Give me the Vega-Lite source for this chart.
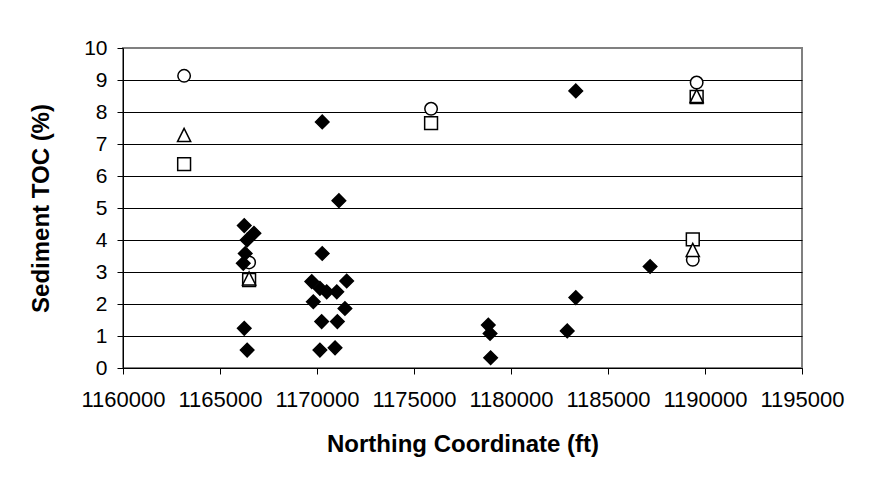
{
  "$schema": "https://vega.github.io/schema/vega-lite/v6.json",
  "width": 679,
  "height": 320,
  "autosize": {"type": "none"},
  "padding": {"left": 123, "top": 48, "right": 72, "bottom": 126},
  "background": "white",
  "config": {
    "font": "Liberation Sans",
    "view": {"stroke": "#808080", "strokeWidth": 2}
  },
  "data": {
    "values": [
      {"northing": 1163150, "toc": 9.13, "series": "Circle"},
      {"northing": 1166500, "toc": 3.3, "series": "Circle"},
      {"northing": 1175880, "toc": 8.1, "series": "Circle"},
      {"northing": 1189570, "toc": 8.92, "series": "Circle"},
      {"northing": 1189370, "toc": 3.38, "series": "Circle"},
      {"northing": 1163150, "toc": 6.37, "series": "Square"},
      {"northing": 1166500, "toc": 2.75, "series": "Square"},
      {"northing": 1175880, "toc": 7.65, "series": "Square"},
      {"northing": 1189570, "toc": 8.47, "series": "Square"},
      {"northing": 1189370, "toc": 4.02, "series": "Square"},
      {"northing": 1163150, "toc": 7.28, "series": "Triangle"},
      {"northing": 1166500, "toc": 2.8, "series": "Triangle"},
      {"northing": 1189570, "toc": 8.5, "series": "Triangle"},
      {"northing": 1189370, "toc": 3.69, "series": "Triangle"},
      {"northing": 1166250, "toc": 4.45, "series": "Diamond"},
      {"northing": 1166750, "toc": 4.21, "series": "Diamond"},
      {"northing": 1166400, "toc": 4.0, "series": "Diamond"},
      {"northing": 1166300, "toc": 3.58, "series": "Diamond"},
      {"northing": 1166200, "toc": 3.27, "series": "Diamond"},
      {"northing": 1166250, "toc": 1.24, "series": "Diamond"},
      {"northing": 1166400, "toc": 0.56, "series": "Diamond"},
      {"northing": 1170270, "toc": 7.69, "series": "Diamond"},
      {"northing": 1171130, "toc": 5.23, "series": "Diamond"},
      {"northing": 1170270, "toc": 3.58, "series": "Diamond"},
      {"northing": 1169730, "toc": 2.7, "series": "Diamond"},
      {"northing": 1170150, "toc": 2.49, "series": "Diamond"},
      {"northing": 1169810, "toc": 2.07, "series": "Diamond"},
      {"northing": 1170500, "toc": 2.38, "series": "Diamond"},
      {"northing": 1171020, "toc": 2.38, "series": "Diamond"},
      {"northing": 1171530, "toc": 2.72, "series": "Diamond"},
      {"northing": 1171440, "toc": 1.86, "series": "Diamond"},
      {"northing": 1170240, "toc": 1.45, "series": "Diamond"},
      {"northing": 1171050, "toc": 1.45, "series": "Diamond"},
      {"northing": 1170150, "toc": 0.56, "series": "Diamond"},
      {"northing": 1170930, "toc": 0.63, "series": "Diamond"},
      {"northing": 1178830, "toc": 1.34, "series": "Diamond"},
      {"northing": 1178920, "toc": 1.08, "series": "Diamond"},
      {"northing": 1178950, "toc": 0.32, "series": "Diamond"},
      {"northing": 1182900, "toc": 1.16, "series": "Diamond"},
      {"northing": 1183340, "toc": 2.2, "series": "Diamond"},
      {"northing": 1183340, "toc": 8.66, "series": "Diamond"},
      {"northing": 1187170, "toc": 3.17, "series": "Diamond"}
    ]
  },
  "mark": {"type": "point", "filled": false, "opacity": 1, "stroke": "black"},
  "encoding": {
    "x": {
      "field": "northing",
      "type": "quantitative",
      "scale": {"domain": [1160000, 1195000], "nice": false, "zero": false},
      "axis": {
        "title": "Northing Coordinate (ft)",
        "values": [1160000, 1165000, 1170000, 1175000, 1180000, 1185000, 1190000, 1195000],
        "format": "d",
        "grid": false,
        "domainColor": "black",
        "domainWidth": 1,
        "tickColor": "black",
        "tickSize": 6,
        "labelPadding": 15,
        "labelFontSize": 22,
        "labelColor": "black",
        "labelFont": "Liberation Sans",
        "labelOverlap": false,
        "labelFlush": false,
        "titleFontSize": 24,
        "titleFontWeight": "bold",
        "titleColor": "black",
        "titleFont": "Liberation Sans",
        "titlePadding": 22
      }
    },
    "y": {
      "field": "toc",
      "type": "quantitative",
      "scale": {"domain": [0, 10], "nice": false},
      "axis": {
        "title": "Sediment TOC (%)",
        "values": [0, 1, 2, 3, 4, 5, 6, 7, 8, 9, 10],
        "grid": true,
        "gridColor": {"condition": {"test": "datum.value === 10", "value": "#808080"}, "value": "black"},
        "gridWidth": 1,
        "domainColor": "black",
        "domainWidth": 1,
        "tickColor": "black",
        "tickSize": 6,
        "labelPadding": 10,
        "labelFontSize": 21,
        "labelColor": "black",
        "labelFont": "Liberation Sans",
        "labelFlush": false,
        "titleFontSize": 24,
        "titleFontWeight": "bold",
        "titleColor": "black",
        "titleFont": "Liberation Sans",
        "titlePadding": 30
      }
    },
    "shape": {
      "field": "series",
      "type": "nominal",
      "scale": {
        "domain": ["Circle", "Square", "Triangle", "Diamond"],
        "range": ["circle", "square", "M0,-1L-1,1L1,1Z", "diamond"]
      },
      "legend": null
    },
    "fill": {
      "field": "series",
      "type": "nominal",
      "scale": {
        "domain": ["Circle", "Square", "Triangle", "Diamond"],
        "range": ["white", "white", "white", "black"]
      },
      "legend": null
    },
    "size": {
      "field": "series",
      "type": "nominal",
      "scale": {
        "domain": ["Circle", "Square", "Triangle", "Diamond"],
        "range": [156, 182, 225, 300]
      },
      "legend": null
    },
    "strokeWidth": {
      "field": "series",
      "type": "nominal",
      "scale": {
        "domain": ["Circle", "Square", "Triangle", "Diamond"],
        "range": [1.5, 1.5, 1.5, 1]
      },
      "legend": null
    }
  }
}
